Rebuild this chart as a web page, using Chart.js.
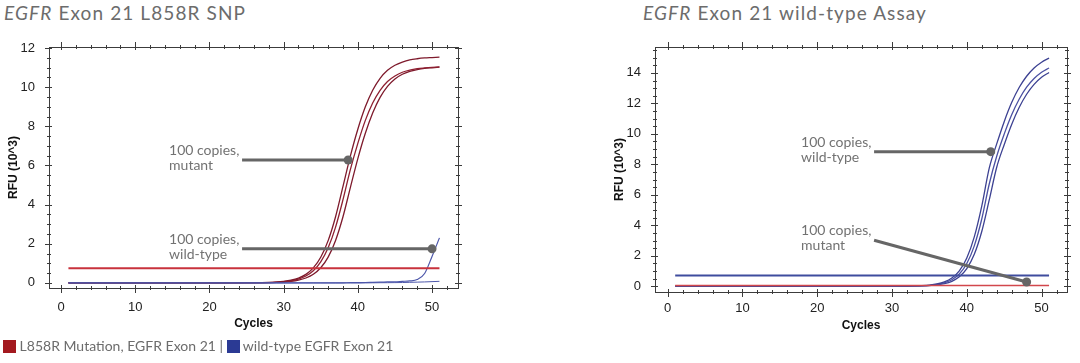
<!DOCTYPE html>
<html>
<head>
<meta charset="utf-8">
<script src="https://cdn.jsdelivr.net/npm/chart.js@4.4.0/dist/chart.umd.min.js"></script>
<style>
  body { margin: 0; width: 1080px; height: 363px; background: #fff; position: relative; overflow: hidden; }
  .title { position: absolute; top: 1px; font-family: Lato, "Noto Sans", sans-serif; font-size: 19px; letter-spacing: 1.1px; color: #6c6c6c; white-space: nowrap; }
  canvas { position: absolute; top: 0; }
  .legend { position: absolute; left: 3px; top: 337px; font-family: Lato, "Noto Sans", sans-serif; font-size: 14px; color: #6c6c6c; white-space: nowrap; }
  .sw { display: inline-block; width: 13px; height: 13px; vertical-align: -2px; }
</style>
</head>
<body>
<div class="title" style="left:4px"><i>EGFR</i> Exon 21 L858R SNP</div>
<div class="title" style="left:643px"><i>EGFR</i> Exon 21 wild-type Assay</div>
<canvas id="chartMut" width="540" height="345" style="left:0"></canvas>
<canvas id="chartWt" width="540" height="345" style="left:540px"></canvas>
<div class="legend"><span class="sw" style="background:#a3191f"></span> L858R Mutation, EGFR Exon 21 | <span class="sw" style="background:#2b3a94"></span> wild-type EGFR Exon 21</div>
<script>
// ======= Datos =======
const cycles = [1, 5, 10, 15, 20, 25, 28, 29, 30, 31, 32, 33, 34, 35, 36, 37, 38, 39, 40, 41, 42, 43, 44, 45, 46, 47, 48, 49, 50, 51];
const xTicks = [0, 10, 20, 30, 40, 50];

// L858R SNP assay
const mutA = [0, 0, 0, 0, 0, 0.01, 0.024, 0.043, 0.078, 0.139, 0.248, 0.437, 0.766, 1.31, 2.16, 3.38, 4.93, 6.49, 7.85, 8.98, 9.84, 10.45, 10.86, 11.12, 11.28, 11.39, 11.45, 11.49, 11.51, 11.53];
const mutB = [0, 0, 0, 0, 0, 0.01, 0.019, 0.035, 0.062, 0.111, 0.199, 0.353, 0.621, 1.07, 1.79, 2.85, 4.25, 5.80, 7.13, 8.29, 9.19, 9.84, 10.29, 10.57, 10.76, 10.87, 10.94, 10.98, 11.01, 11.03];
const mutC = [0, 0, 0, 0, 0, 0.005, 0.013, 0.024, 0.044, 0.078, 0.141, 0.251, 0.442, 0.773, 1.32, 2.17, 3.38, 4.88, 6.35, 7.63, 8.68, 9.48, 10.04, 10.42, 10.66, 10.81, 10.90, 10.96, 10.99, 11.02];
const wtRiseL = [0, 0, 0, 0, 0, 0, 0, 0, 0, 0, 0, 0, 0, 0, 0, 0, 0.005, 0.01, 0.015, 0.02, 0.03, 0.04, 0.05, 0.06, 0.08, 0.1, 0.17, 0.48, 1.35, 2.3];
const wtFlatL = [0, 0, 0, 0, 0, 0, 0, 0, 0, 0, 0, 0, 0, 0, 0, 0, 0, 0, 0, 0, 0.005, 0.01, 0.012, 0.015, 0.02, 0.03, 0.04, 0.05, 0.065, 0.08];
const thresholdL = 0.75;
const yTicksL = [0, 2, 4, 6, 8, 10, 12];

// wild-type assay
const wtA = [0, 0, 0, 0, 0, 0, 0, 0.001, 0.003, 0.005, 0.01, 0.02, 0.038, 0.075, 0.145, 0.279, 0.534, 1.006, 1.848, 3.24, 5.26, 7.75, 9.34, 10.80, 12.05, 13.04, 13.78, 14.32, 14.70, 14.97];
const wtB = [0, 0, 0, 0, 0, 0, 0, 0.001, 0.002, 0.004, 0.008, 0.016, 0.03, 0.059, 0.114, 0.22, 0.423, 0.80, 1.49, 2.65, 4.41, 6.71, 8.53, 9.98, 11.25, 12.27, 13.06, 13.63, 14.04, 14.32];
const wtC = [0, 0, 0, 0, 0, 0, 0, 0.001, 0.002, 0.003, 0.006, 0.012, 0.023, 0.044, 0.087, 0.166, 0.322, 0.615, 1.15, 2.09, 3.59, 5.66, 7.81, 9.29, 10.62, 11.73, 12.60, 13.25, 13.71, 14.03];
const mutFlatR = [0.04, 0.04, 0.04, 0.04, 0.04, 0.04, 0.04, 0.04, 0.04, 0.04, 0.04, 0.04, 0.04, 0.04, 0.04, 0.04, 0.04, 0.04, 0.04, 0.04, 0.04, 0.04, 0.04, 0.04, 0.04, 0.04, 0.04, 0.04, 0.04, 0.04];
const thresholdR = 0.7;
const yTicksR = [0, 2, 4, 6, 8, 10, 12, 14];

// ======= Helpers =======
const pts = vals => vals.map((v, i) => ({ x: cycles[i], y: v }));
const flat = v => [{ x: cycles[0], y: v }, { x: cycles[cycles.length - 1], y: v }];

function curva(data, color, width) {
    return {
        data: data,
        borderColor: color,
        borderWidth: width,
        pointRadius: 0,
        fill: false,
        cubicInterpolationMode: 'monotone'
    };
}

// marco con marcas mayores y menores en los cuatro lados
function marco(xMajor, yMajor, yMax) {
    return {
        id: 'marco',
        afterDraw(chart) {
            const { ctx, chartArea: a, scales: { x, y } } = chart;
            ctx.save();
            ctx.strokeStyle = '#3c3c3c';
            ctx.lineWidth = 1;
            ctx.strokeRect(Math.round(a.left) + 0.5, Math.round(a.top) + 0.5,
                Math.round(a.right - a.left), Math.round(a.bottom - a.top));
            ctx.beginPath();
            const marcaX = (v, out, inn) => {
                const px = Math.round(x.getPixelForValue(v)) + 0.5;
                ctx.moveTo(px, a.bottom + out); ctx.lineTo(px, a.bottom - inn);
                ctx.moveTo(px, a.top - out); ctx.lineTo(px, a.top + inn);
            };
            const marcaY = (v, out, inn) => {
                const py = Math.round(y.getPixelForValue(v)) + 0.5;
                ctx.moveTo(a.left - out, py); ctx.lineTo(a.left + inn, py);
                ctx.moveTo(a.right + out, py); ctx.lineTo(a.right - inn, py);
            };
            for (let v = 0; v <= 52; v += 2) {
                if (xMajor.includes(v)) marcaX(v, 5, 3); else marcaX(v, 2, 2);
            }
            for (let v = 0; v <= yMax; v += 0.5) {
                if (yMajor.includes(v)) marcaY(v, 4, 3); else marcaY(v, 2, 2);
            }
            ctx.stroke();
            ctx.restore();
        }
    };
}

// textos con línea gris y punto
function llamadas(items) {
    return {
        id: 'llamadas',
        afterDatasetsDraw(chart) {
            const { ctx, scales: { x, y } } = chart;
            items.forEach(c => {
                const x1 = x.getPixelForValue(c.from[0]), y1 = y.getPixelForValue(c.from[1]);
                const x2 = x.getPixelForValue(c.to[0]), y2 = y.getPixelForValue(c.to[1]);
                ctx.save();
                ctx.strokeStyle = '#666';
                ctx.lineWidth = 3;
                ctx.beginPath();
                ctx.moveTo(x1, y1);
                ctx.lineTo(x2, y2);
                ctx.stroke();
                ctx.fillStyle = '#666';
                ctx.beginPath();
                ctx.arc(x2, y2, 4.5, 0, Math.PI * 2);
                ctx.fill();
                ctx.font = '14px Lato, "Noto Sans", sans-serif';
                ctx.fillStyle = '#727272';
                ctx.textAlign = 'left';
                ctx.textBaseline = 'alphabetic';
                ctx.fillText(c.text[0], x1 - 73, y1 - 5);
                ctx.fillText(c.text[1], x1 - 73, y1 + 10);
                ctx.restore();
            });
        }
    };
}

function opciones(xMin, xMax, yMin, yMax, yTicks, padLeft, padRight, xHeight, xPad, xTitlePad) {
    const tickFont = { family: '"Liberation Sans", Arial, sans-serif', size: 13 };
    const titleFont = { family: '"Liberation Sans", Arial, sans-serif', size: 12, weight: 'bold' };
    return {
        responsive: false,
        animation: false,
        layout: { padding: { left: padLeft, right: padRight, top: 47, bottom: 0 } },
        plugins: { legend: { display: false }, tooltip: { enabled: false } },
        scales: {
            x: {
                type: 'linear',
                min: xMin,
                max: xMax,
                grid: { display: false },
                border: { display: false },
                afterBuildTicks: s => { s.ticks = xTicks.map(v => ({ value: v })); },
                afterFit: s => { s.height = xHeight; },
                ticks: { color: '#222', font: tickFont, padding: xPad, maxRotation: 0 },
                title: { display: true, text: 'Cycles', color: '#111', font: titleFont, padding: { top: 0, bottom: xTitlePad } }
            },
            y: {
                type: 'linear',
                min: yMin,
                max: yMax,
                grid: { display: false },
                border: { display: false },
                afterBuildTicks: s => { s.ticks = yTicks.map(v => ({ value: v })); },
                afterFit: s => { s.width = 49; },
                ticks: { color: '#222', font: tickFont, padding: 6 },
                title: { display: true, text: 'RFU (10^3)', color: '#111', font: titleFont, padding: { top: 6, bottom: 0 } }
            }
        }
    };
}

// ======= Gráfico L858R =======
new Chart(document.getElementById('chartMut'), {
    type: 'line',
    data: {
        datasets: [
            curva(flat(thresholdL), '#c8323c', 2),
            curva(pts(wtFlatL), '#4d57aa', 1),
            curva(pts(wtRiseL), '#4d57aa', 1.2),
            curva(pts(mutA), '#7e1a2c', 1.3),
            curva(pts(mutB), '#8e1f30', 1.3),
            curva(pts(mutC), '#7e1a2c', 1.3)
        ]
    },
    options: opciones(-1.62, 53.5, -0.26, 12.05, yTicksL, 0, 82, 57, 4, 14),
    plugins: [
        marco(xTicks, yTicksL, 12),
        llamadas([
            { text: ['100 copies,', 'mutant'], from: [24.4, 6.28], to: [38.7, 6.28] },
            { text: ['100 copies,', 'wild-type'], from: [24.4, 1.74], to: [50.0, 1.74] }
        ])
    ]
});

// ======= Gráfico wild-type =======
new Chart(document.getElementById('chartWt'), {
    type: 'line',
    data: {
        datasets: [
            curva(flat(thresholdR), '#3f4c9e', 2),
            curva(pts(mutFlatR), '#d2474c', 1.5),
            curva(pts(wtA), '#3c4192', 1.3),
            curva(pts(wtB), '#4a50a2', 1.3),
            curva(pts(wtC), '#3c4192', 1.3)
        ]
    },
    options: opciones(-1.7, 53.4, -0.38, 15.7, yTicksR, 66, 13, 53, 1, 12),
    plugins: [
        marco(xTicks, yTicksR, 15.5),
        llamadas([
            { text: ['100 copies,', 'wild-type'], from: [27.6, 8.83], to: [43.2, 8.83] },
            { text: ['100 copies,', 'mutant'], from: [27.6, 3.02], to: [48.0, 0.28] }
        ])
    ]
});
</script>
</body>
</html>
